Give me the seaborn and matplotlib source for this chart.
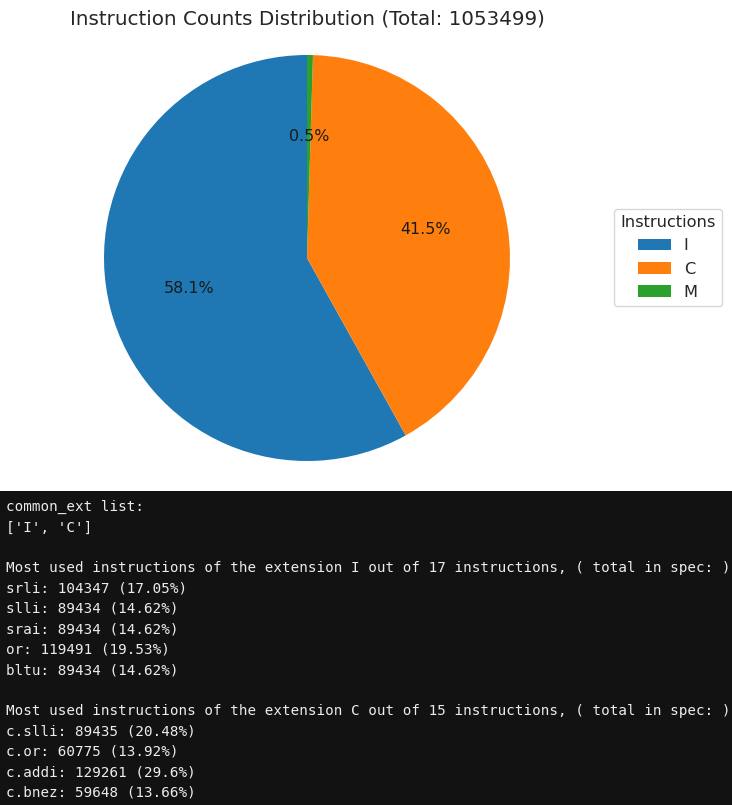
import matplotlib
matplotlib.use("Agg")
import matplotlib.pyplot as plt
import seaborn as sns

# --- DATA ---
extensions = ["I", "C", "M"]
counts = [611880, 436680, 4939]

common_ext = ["I", "C"]
ext_sizes = [17, 15]

top_I_names = ["srli", "slli", "srai", "or", "bltu"]
top_I_counts = [104347, 89434, 89434, 119491, 89434]
top_I_pcts = ["17.05", "14.62", "14.62", "19.53", "14.62"]

top_C_names = ["c.slli", "c.or", "c.addi", "c.bnez"]
top_C_counts = [89435, 60775, 129261, 59648]
top_C_pcts = ["20.48", "13.92", "29.6", "13.66"]

W, H = 732, 805


def build_console_lines():
    lines = ["common_ext list:", str(common_ext), ""]
    blocks = [(top_I_names, top_I_counts, top_I_pcts), (top_C_names, top_C_counts, top_C_pcts)]
    for k, (ext, n) in enumerate(zip(common_ext, ext_sizes)):
        lines.append(f"Most used instructions of the extension {ext} out of {n} "
                     f"instructions, ( total in spec: )")
        names, cnts, pcts = blocks[k]
        for name, c, p in zip(names, cnts, pcts):
            lines.append(f"{name}: {c} ({p}%)")
        if k == 0:
            lines.append("")
    return lines


def main():
    colors = sns.color_palette("tab10", 3)
    fig = plt.figure(figsize=(W / 100, H / 100), dpi=100)

    # pie axes: centre (307, 258) px, radius ~203 px -> 2.5 units = 507.5 px
    side = 507.5
    cx, cy = 307, 258
    ax = fig.add_axes([(cx - side / 2) / W, (H - cy - side / 2) / H, side / W, side / H])
    wedges, texts, autotexts = ax.pie(counts, colors=colors, autopct="%1.1f%%",
                                      startangle=90,
                                      textprops={"fontsize": 11.4, "color": "#1a1a1a"})
    ax.set_aspect("equal")

    fig.text(cx / W, 1 - 19 / H, f"Instruction Counts Distribution (Total: {sum(counts)})",
             ha="center", va="center", fontsize=14.3, color="#262626")

    leg = fig.legend(wedges, extensions, title="Instructions", loc="center",
                     bbox_to_anchor=(668 / W, 1 - 257.5 / H), fontsize=11.7,
                     title_fontsize=11.7)
    leg.get_title().set_color("#262626")
    for t in leg.get_texts():
        t.set_color("#262626")

    # console output panel
    top = 490.7
    cax = fig.add_axes([0, 0, 1, (H - top) / H])
    cax.set_facecolor("#121212")
    cax.set_xticks([])
    cax.set_yticks([])
    for s in cax.spines.values():
        s.set_visible(False)
    cax.set_xlim(0, W)
    cax.set_ylim(H, top)

    for i, line in enumerate(build_console_lines()):
        cax.text(5.5, 507 + 20.4 * i, line, color="#ececec", fontsize=10.25,
                 family="DejaVu Sans Mono", ha="left", va="center")

    fig.savefig("out.png", dpi=100)


if __name__ == "__main__":
    main()
